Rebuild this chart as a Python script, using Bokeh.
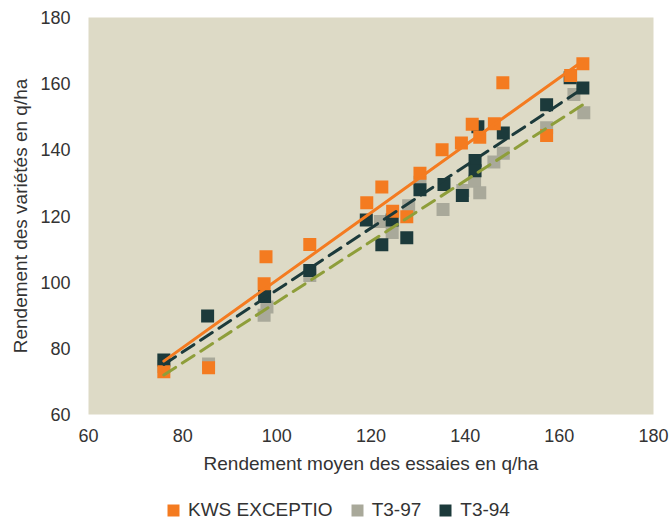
from bokeh.plotting import figure
from bokeh.models import Legend, LegendItem, FixedTicker
from bokeh.layouts import column
from bokeh.embed import file_html
from bokeh.resources import INLINE
import numpy as np

# ---- data ----
ticks = [60, 80, 100, 120, 140, 160, 180]

kws_x = [76.0, 85.5, 97.3, 97.7, 107.0, 119.1, 122.3, 124.6, 127.6, 130.4, 135.1,
         139.2, 141.5, 143.1, 146.2, 148.0, 157.3, 162.4, 165.0]
kws_y = [72.9, 74.1, 99.5, 107.7, 111.4, 124.0, 128.8, 121.4, 119.8, 132.9, 140.0,
         142.1, 147.7, 143.8, 147.9, 160.3, 144.3, 162.5, 166.0]

t97_x = [76.0, 85.5, 97.3, 97.9, 107.0, 122.0, 124.5, 128.0, 130.4, 135.3, 139.5,
         142.0, 143.1, 146.1, 148.1, 157.3, 163.1, 165.2]
t97_y = [74.5, 75.3, 90.0, 92.5, 102.0, 118.3, 115.0, 123.1, 130.2, 122.0, 127.7,
         130.5, 127.0, 136.3, 139.0, 146.7, 156.7, 151.2]

t94_x = [76.0, 85.3, 97.4, 107.0, 119.0, 122.3, 124.5, 127.6, 130.4, 135.5, 139.4,
         142.1, 142.1, 142.7, 148.1, 157.3, 162.3, 165.0]
t94_y = [76.5, 89.8, 95.7, 103.5, 118.8, 111.3, 118.8, 113.4, 127.9, 129.5, 126.2,
         136.8, 133.7, 147.0, 145.1, 153.6, 161.8, 158.7]

names = ["KWS EXCEPTIO", "T3-97", "T3-94"]

# ---- styles ----
C_KWS = "#F47B20"
C_97 = "#A9A99A"
C_94 = "#1C3A3B"
C_97_TREND = "#8E9E3A"
BG = "#DDDAC6"
TXT = "#333333"
FONT = "Liberation Sans"
MS = 13

p = figure(width=670, height=488, x_range=(60, 180), y_range=(60, 180),
           output_backend="svg", toolbar_location=None,
           min_border_left=88, min_border_right=17, min_border_top=17,
           min_border_bottom=74)
p.background_fill_color = BG
p.border_fill_color = "white"
p.outline_line_color = None
p.grid.visible = False

for ax in (p.xaxis[0], p.yaxis[0]):
    ax.ticker = FixedTicker(ticks=ticks)
    ax.axis_line_color = None
    ax.major_tick_line_color = None
    ax.minor_tick_line_color = None
    ax.major_tick_out = 0
    ax.major_tick_in = 0
    ax.major_label_text_font = FONT
    ax.major_label_text_font_size = "18px"
    ax.major_label_text_color = TXT
    ax.axis_label_text_font = FONT
    ax.axis_label_text_font_size = "19px"
    ax.axis_label_text_font_style = "normal"
    ax.axis_label_text_color = TXT

p.xaxis.axis_label = "Rendement moyen des essaies en q/ha"
p.yaxis.axis_label = "Rendement des variétés en q/ha"
p.xaxis.major_label_standoff = 14
p.xaxis.axis_label_standoff = 8
p.yaxis.major_label_standoff = 18
p.yaxis.axis_label_standoff = 6

p.scatter(t97_x, t97_y, marker="square", size=MS, fill_color=C_97, line_color=None)
p.scatter(t94_x, t94_y, marker="square", size=MS, fill_color=C_94, line_color=None)
p.scatter(kws_x, kws_y, marker="square", size=MS, fill_color=C_KWS, line_color=None)

def trend(xs, ys):
    a, b = np.polyfit(xs, ys, 1)
    x0, x1 = min(xs), max(xs)
    return [x0, x1], [a * x0 + b, a * x1 + b]

tx, ty = trend(t97_x, t97_y)
p.line(tx, ty, line_color=C_97_TREND, line_width=3, line_dash="14 8", line_cap="round")
tx, ty = trend(t94_x, t94_y)
p.line(tx, ty, line_color=C_94, line_width=3, line_dash="14 8", line_cap="round")
tx, ty = trend(kws_x, kws_y)
p.line(tx, ty, line_color=C_KWS, line_width=3, line_cap="round")

# ---- legend strip below the chart (its ranges keep the series off-screen;
#      the renderers only supply the legend swatches) ----
lg = figure(width=670, height=34, x_range=(0, 1), y_range=(0, 1),
            output_backend="svg", toolbar_location=None, min_border=0,
            x_axis_location=None, y_axis_location=None)
lg.outline_line_color = None
lg.grid.visible = False
lg.background_fill_color = "white"
lg.border_fill_color = "white"
rk = lg.scatter(kws_x, kws_y, marker="square", size=MS, fill_color=C_KWS, line_color=None)
r97 = lg.scatter(t97_x, t97_y, marker="square", size=MS, fill_color=C_97, line_color=None)
r94 = lg.scatter(t94_x, t94_y, marker="square", size=MS, fill_color=C_94, line_color=None)

legend = Legend(items=[LegendItem(label=names[0], renderers=[rk]),
                       LegendItem(label=names[1], renderers=[r97]),
                       LegendItem(label=names[2], renderers=[r94])],
                orientation="horizontal", location=(70, -3))
legend.label_text_font = FONT
legend.label_text_font_size = "19px"
legend.label_text_color = TXT
legend.glyph_width = 30
legend.glyph_height = 30
legend.label_standoff = 0
legend.spacing = 9
legend.padding = 0
legend.margin = 0
legend.border_line_color = None
legend.background_fill_alpha = 0
legend.label_height = 20
lg.add_layout(legend, "center")

layout = column(p, lg, spacing=0)
open("out.html", "w").write(file_html(layout, INLINE))
